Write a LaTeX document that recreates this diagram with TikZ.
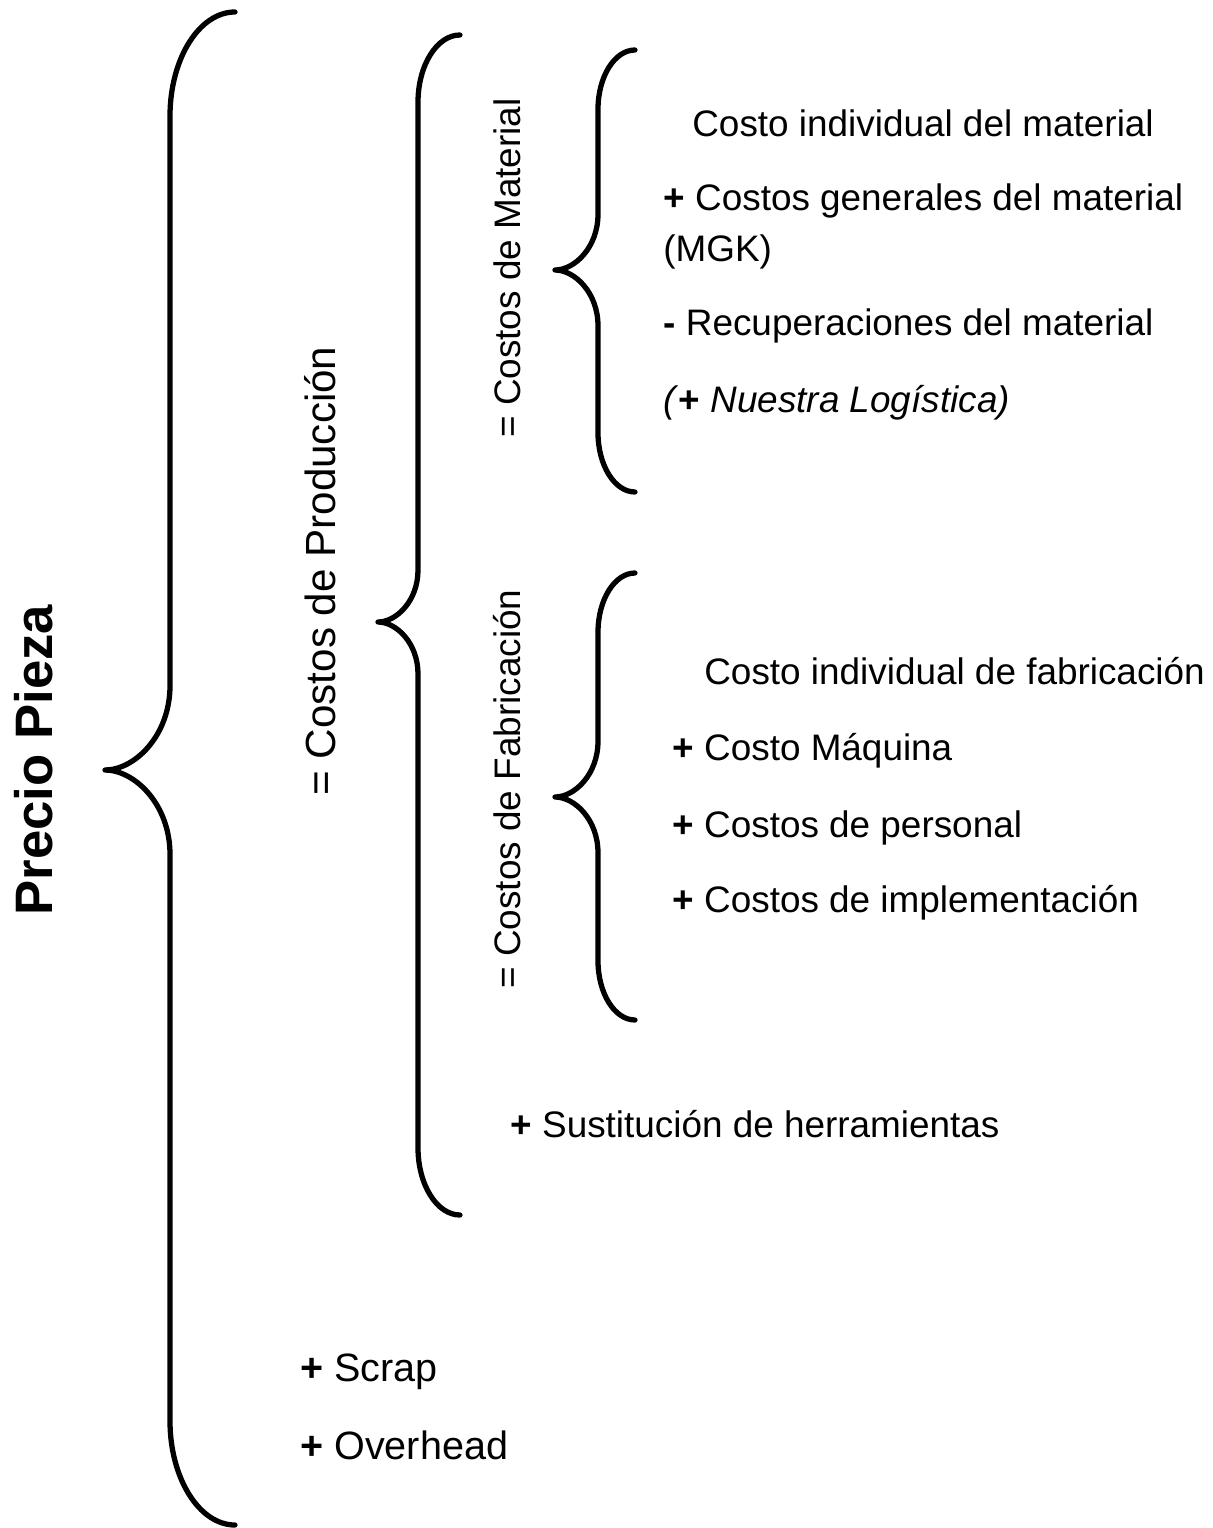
\documentclass[tikz,border=0pt]{standalone}
\usepackage{fontspec}
\setmainfont{Liberation Sans}
\usepackage{tikz}

% curly brace: end x, spine x, tip x, top y, tip y, bottom y
\newcommand{\curlybrace}[6]{%
\pgfmathsetmacro{\bd}{#1-#2}\pgfmathsetmacro{\bl}{1.6*\bd}%
\pgfmathsetmacro{\bt}{#2-#3}\pgfmathsetmacro{\bm}{1.3*\bt}%
\draw[bracestyle] (#1,#4) .. controls ({#2+0.45*\bd},#4) and (#2,{#4+0.45*\bl}) .. (#2,{#4+\bl})
  -- (#2,{#5-\bm}) .. controls (#2,{#5-0.4*\bm}) and ({#3+0.45*\bt},#5) .. (#3,#5)
  .. controls ({#3+0.45*\bt},#5) and (#2,{#5+0.4*\bm}) .. (#2,{#5+\bm})
  -- (#2,{#6-\bl}) .. controls (#2,{#6-0.45*\bl}) and ({#2+0.45*\bd},#6) .. (#1,#6);}

\tikzset{
  bracestyle/.style={line width=3pt,line cap=round,line join=round},
  item/.style={anchor=base west,inner sep=0pt,font=\fontsize{21}{25}\selectfont},
  sidelabel/.style={anchor=base,inner sep=0pt,rotate=90,font=\fontsize{21}{25}\selectfont}
}

\begin{document}
\begin{tikzpicture}[x=0.02cm,y=-0.02cm]
\useasboundingbox (0,0) rectangle (1213,1528);
% braces
\curlybrace{235}{170}{105}{12}{770}{1525}
\curlybrace{460}{418}{378}{35}{622}{1215}
\curlybrace{635}{598}{555}{50}{270}{492}
\curlybrace{635}{598}{555}{573}{797}{1020}
% side labels
\node[sidelabel,font=\fontsize{30}{36}\selectfont\bfseries] (pieza) at (52,760) {Precio Pieza};
\node[sidelabel,font=\fontsize{24}{29}\selectfont] (produccion) at (335,571) {= Costos de Producción};
\node[sidelabel] (material) at (520,268) {= Costos de Material};
\node[sidelabel] (fabricacion) at (520,789) {= Costos de Fabricación};
% material items
\node[item] (mat1) at (692,136) {Costo individual del material};
\node[item] (mat2) at (663,210) {\textbf{+} Costos generales del material};
\node[item] (mat3) at (663,261) {(MGK)};
\node[item] (mat4) at (663,335) {\textbf{-} Recuperaciones del material};
\node[item] (mat5) at (663,412) {\textit{(}\textbf{+} \textit{Nuestra Logística)}};
% fabricacion items
\node[item] (fab1) at (704,684) {Costo individual de fabricación};
\node[item] (fab2) at (672,760) {\textbf{+} Costo Máquina};
\node[item] (fab3) at (672,837) {\textbf{+} Costos de personal};
\node[item] (fab4) at (672,912) {\textbf{+} Costos de implementación};
% rest
\node[item] (herr) at (510,1137) {\textbf{+} Sustitución de herramientas};
\node[item,font=\fontsize{22.5}{27}\selectfont] (scrap) at (300,1381) {\textbf{+} Scrap};
\node[item,font=\fontsize{22.5}{27}\selectfont] (overhead) at (300,1459) {\textbf{+} Overhead};
\end{tikzpicture}
\end{document}
